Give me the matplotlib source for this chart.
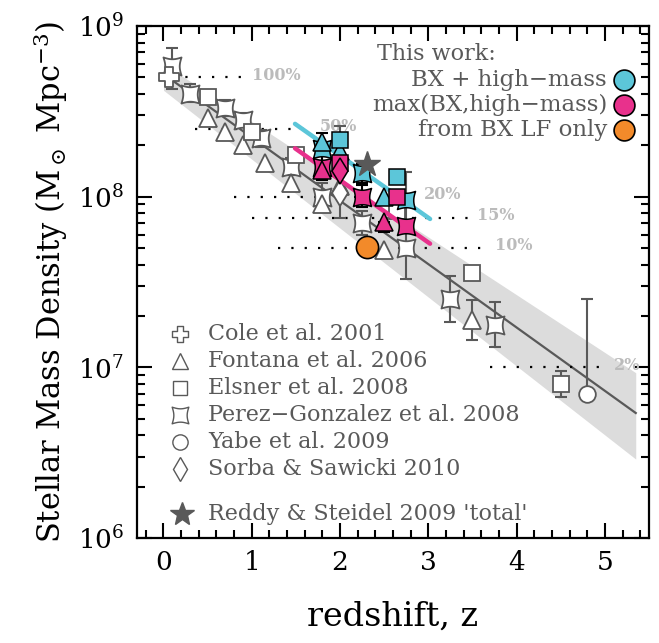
import matplotlib
matplotlib.use("Agg")
import matplotlib.pyplot as plt
import numpy as np
from matplotlib.path import Path
from matplotlib.ticker import MultipleLocator, LogLocator, NullFormatter

plt.rcParams['font.family'] = ['DejaVu Serif']
plt.rcParams['mathtext.fontset'] = 'dejavuserif'

# ---- data (z, stellar mass density in Msun/Mpc^3) ----
cole_z = [0.06]
cole_rho = [5.0e8]

fontana_z = [0.5, 0.7, 0.9, 1.15, 1.45, 1.8, 2.0, 2.5, 3.5]
fontana_rho = [2.9e8, 2.4e8, 2.0e8, 1.57e8, 1.2e8, 9.0e7, 1.15e8, 4.9e7, 1.9e7]
fontana_lo = [2.9e8, 2.4e8, 2.0e8, 1.57e8, 1.2e8, 9.0e7, 1.15e8, 4.9e7, 1.44e7]
fontana_hi = [2.9e8, 2.4e8, 2.0e8, 1.57e8, 1.2e8, 9.0e7, 1.15e8, 4.9e7, 2.48e7]

elsner_z = [0.5, 1.0, 1.5, 2.65, 3.5, 4.5]
elsner_rho = [3.86e8, 2.4e8, 1.75e8, 8.2e7, 3.56e7, 8.0e6]
elsner_lo = [3.86e8, 2.4e8, 1.75e8, 8.2e7, 3.56e7, 6.7e6]
elsner_hi = [3.86e8, 2.4e8, 1.75e8, 8.2e7, 3.56e7, 9.5e6]

pg_z = [0.1, 0.3, 0.7, 0.9, 1.1, 1.45, 1.8, 2.25, 2.75, 3.25, 3.75]
pg_rho = [5.8e8, 4.0e8, 3.3e8, 2.8e8, 2.2e8, 1.5e8, 1.0e8, 7.0e7, 5.0e7, 2.5e7, 1.77e7]
pg_lo = [4.3e8, 3.6e8, 2.95e8, 2.57e8, 1.96e8, 1.34e8, 8.3e7, 6.0e7, 3.3e7, 1.85e7, 1.32e7]
pg_hi = [7.4e8, 4.6e8, 3.7e8, 3.1e8, 2.45e8, 1.68e8, 1.2e8, 8.2e7, 1.4e8, 3.45e7, 2.4e7]

yabe_z = [4.8]
yabe_rho = [7.0e6]
yabe_lo = [7.0e6]
yabe_hi = [2.5e7]

sorba_z = [2.0]
sorba_rho = [1.05e8]
sorba_lo = [7.5e7]
sorba_hi = [2.6e8]

reddy_z = [2.3]
reddy_rho = [1.55e8]

# this work: BX + high-mass (cyan)
bxhm_tri_z, bxhm_tri_rho = [1.8, 2.0, 2.5], [2.1e8, 1.85e8, 1.0e8]
bxhm_sq_z, bxhm_sq_rho = [2.0, 2.65], [2.15e8, 1.3e8]
bxhm_pg_z, bxhm_pg_rho = [1.8, 2.25, 2.75], [1.9e8, 1.37e8, 9.5e7]
bxhm_pg_lo, bxhm_pg_hi = [1.75e8, 1.2e8, 9.5e7], [2.35e8, 1.55e8, 9.5e7]
# this work: max(BX, high-mass) (magenta)
maxbx_tri_z, maxbx_tri_rho = [1.8, 2.5], [1.43e8, 7.1e7]
maxbx_tri_lo, maxbx_tri_hi = [1.25e8, 6.2e7], [1.43e8, 7.1e7]
maxbx_sq_z, maxbx_sq_rho = [2.0, 2.65], [1.57e8, 1.0e8]
maxbx_pg_z, maxbx_pg_rho = [1.8, 2.25, 2.75], [1.5e8, 1.0e8, 6.7e7]
maxbx_pg_lo, maxbx_pg_hi = [1.5e8, 8.7e7, 6.7e7], [1.75e8, 1.17e8, 6.7e7]
maxbx_dia_z, maxbx_dia_rho = [2.0], [1.42e8]
# this work: from BX LF only (orange)
bxlf_z, bxlf_rho = [2.3], [5.1e7]

# fit line, its band and the fitted lines through this work
fit_z = [0.1, 5.35]
fit_rho = [4.8e8, 5.4e6]
band_z = [0.0, 5.35]
band_hi = [6.0e8, 9.3e6]
band_lo = [4.2e8, 2.9e6]
bxhm_line_z, bxhm_line_rho = [1.49, 3.02], [2.67e8, 7.4e7]
maxbx_line_z, maxbx_line_rho = [1.49, 3.02], [1.92e8, 5.3e7]

# completeness levels
pct_labels = ['100%', '50%', '20%', '15%', '10%', '2%']
pct_rho = [5.0e8, 2.5e8, 1.0e8, 7.5e7, 5.0e7, 1.0e7]
pct_z0 = [0.1, 0.36, 0.8, 1.0, 1.3, 3.7]
pct_z1 = [0.95, 1.72, 2.9, 3.5, 3.7, 5.05]

GREY = '#595959'
CYAN = '#5CC6D9'
PINK = '#E8318C'
ORANGE = '#F28A2A'


def concave_square(n=16, bow=0.2):
    corners = np.array([(-1, -1), (1, -1), (1, 1), (-1, 1)], float)
    verts = []
    for i in range(4):
        a, b = corners[i], corners[(i + 1) % 4]
        inward = -(a + b) / 2
        t = np.linspace(0, 1, n, endpoint=False)[:, None]
        verts.append(a + t * (b - a) + inward * bow * np.sin(np.pi * t))
    verts = np.vstack(verts + [corners[:1]])
    codes = [Path.MOVETO] + [Path.LINETO] * (len(verts) - 2) + [Path.CLOSEPOLY]
    return Path(verts, codes)


def cross_marker(w=0.36):
    v = [(-w, 1), (w, 1), (w, w), (1, w), (1, -w), (w, -w), (w, -1), (-w, -1),
         (-w, -w), (-1, -w), (-1, w), (-w, w), (-w, 1)]
    return Path(v, [Path.MOVETO] + [Path.LINETO] * 11 + [Path.CLOSEPOLY])


PG = concave_square()
CROSS = cross_marker()

fig = plt.figure(figsize=(6.59, 6.43), dpi=100)
ax = fig.add_axes([0.2079, 0.1633, 0.7769, 0.7963])
ax.set_yscale('log')
ax.set_xlim(-0.3, 5.5)
ax.set_ylim(1e6, 1e9)

ax.fill_between(band_z, band_lo, band_hi, color='#dcdcdc', lw=0, zorder=1)
ax.plot(fit_z, fit_rho, color=GREY, lw=1.6, zorder=2)

for lab, r, z0, z1 in zip(pct_labels, pct_rho, pct_z0, pct_z1):
    ax.plot([z0, z1], [r, r], color='k', lw=1.6, ls=(0, (1, 5)), zorder=2)
    ax.text(z1 + 0.05, r * 1.03, lab, color='#bbbbbb', fontsize=11.5,
            fontweight='bold', va='center', ha='left', zorder=2)


def points(z, rho, marker, ms, lo=None, hi=None, face='white', edge=GREY,
           ecolor=GREY, zo=3, mew=1.3):
    z = np.asarray(z)
    rho = np.asarray(rho)
    if lo is not None:
        lo = np.asarray(lo)
        hi = np.asarray(hi)
        m = (hi > rho) | (lo < rho)
        if m.any():
            ax.errorbar(z[m], rho[m], yerr=[rho[m] - lo[m], hi[m] - rho[m]],
                        fmt='none', ecolor=ecolor, elinewidth=1.5, capsize=4.5,
                        capthick=1.5, zorder=zo - 0.5)
    ax.plot(z, rho, ls='none', marker=marker, ms=ms, mfc=face, mec=edge,
            mew=mew, zorder=zo)


# literature points
points(pg_z, pg_rho, PG, 13, pg_lo, pg_hi)
points(cole_z, cole_rho, CROSS, 15)
points(fontana_z, fontana_rho, '^', 13, fontana_lo, fontana_hi)
points(elsner_z, elsner_rho, 's', 12, elsner_lo, elsner_hi)
points(sorba_z, sorba_rho, 'd', 13, sorba_lo, sorba_hi)
points(yabe_z, yabe_rho, 'o', 12, yabe_lo, yabe_hi)

# fitted lines through this work
ax.plot(bxhm_line_z, bxhm_line_rho, color=CYAN, lw=3.2, solid_capstyle='round', zorder=4)
ax.plot(maxbx_line_z, maxbx_line_rho, color=PINK, lw=3.2, solid_capstyle='round', zorder=4)

# this work
points(bxhm_pg_z, bxhm_pg_rho, PG, 13, bxhm_pg_lo, bxhm_pg_hi, CYAN, 'k', 'k', 5, 1.1)
points(bxhm_tri_z, bxhm_tri_rho, '^', 13, None, None, CYAN, 'k', 'k', 5, 1.1)
points(bxhm_sq_z, bxhm_sq_rho, 's', 12, None, None, CYAN, 'k', 'k', 5, 1.1)
points(maxbx_pg_z, maxbx_pg_rho, PG, 13, maxbx_pg_lo, maxbx_pg_hi, PINK, 'k', 'k', 5, 1.1)
points(maxbx_tri_z, maxbx_tri_rho, '^', 13, maxbx_tri_lo, maxbx_tri_hi, PINK, 'k', 'k', 5, 1.1)
points(maxbx_sq_z, maxbx_sq_rho, 's', 12, None, None, PINK, 'k', 'k', 5, 1.1)
points(maxbx_dia_z, maxbx_dia_rho, 'd', 13, None, None, PINK, 'k', 'k', 5, 1.1)
points(bxlf_z, bxlf_rho, 'o', 16, None, None, ORANGE, 'k', 'k', 6, 1.2)
ax.plot(reddy_z, reddy_rho, ls='none', marker='*', ms=19, mfc=GREY, mec=GREY, zorder=6)

# lower-left legend
tr = ax.transAxes
leg = [(CROSS, 12, 'Cole et al. 2001'), ('^', 11, 'Fontana et al. 2006'),
       ('s', 10, 'Elsner et al. 2008'), (PG, 12, 'Perez\u2212Gonzalez et al. 2008'),
       ('o', 11, 'Yabe et al. 2009'), ('d', 12, 'Sorba & Sawicki 2010')]
for i, (mk, ms, lab) in enumerate(leg):
    yy = 0.398 - i * 0.0527
    ax.plot([0.084], [yy], transform=tr, marker=mk, ms=ms, mfc='white', mec=GREY,
            mew=1.0, ls='none', zorder=7)
    ax.text(0.139, yy, lab, transform=tr, color=GREY, fontsize=16, va='center')
ax.plot([0.088], [0.047], transform=tr, marker='*', ms=18, mfc=GREY, mec=GREY, ls='none')
ax.text(0.139, 0.047, "Reddy & Steidel 2009 'total'", transform=tr, color=GREY,
        fontsize=16, va='center')

# upper-right legend
ax.text(0.468, 0.945, 'This work:', transform=tr, color=GREY, fontsize=16, va='center')
for yy, lab, col in [(0.895, 'BX + high\u2212mass', CYAN),
                     (0.846, 'max(BX,high\u2212mass)', PINK),
                     (0.797, 'from BX LF only', ORANGE)]:
    ax.text(0.918, yy, lab, transform=tr, color=GREY, fontsize=16.5, va='center', ha='right')
    ax.plot([0.951], [yy], transform=tr, marker='o', ms=15, mfc=col, mec='k',
            mew=1.2, ls='none')

# axes styling
ax.xaxis.set_major_locator(MultipleLocator(1))
ax.xaxis.set_minor_locator(MultipleLocator(0.2))
ax.yaxis.set_major_locator(LogLocator(base=10, numticks=10))
ax.yaxis.set_minor_locator(LogLocator(base=10, subs=np.arange(2, 10), numticks=10))
ax.yaxis.set_minor_formatter(NullFormatter())
ax.tick_params(which='both', direction='in', top=True, right=True, width=1.5)
ax.tick_params(which='major', length=11, labelsize=19, pad=9)
ax.tick_params(which='minor', length=6)
for s in ax.spines.values():
    s.set_linewidth(1.6)

ax.set_xlabel('redshift, z', fontsize=24, labelpad=18)
ax.set_ylabel(r'Stellar Mass Density (M$_\odot$ Mpc$^{-3}$)', fontsize=22, labelpad=6)

fig.savefig('out.png', dpi=100)
